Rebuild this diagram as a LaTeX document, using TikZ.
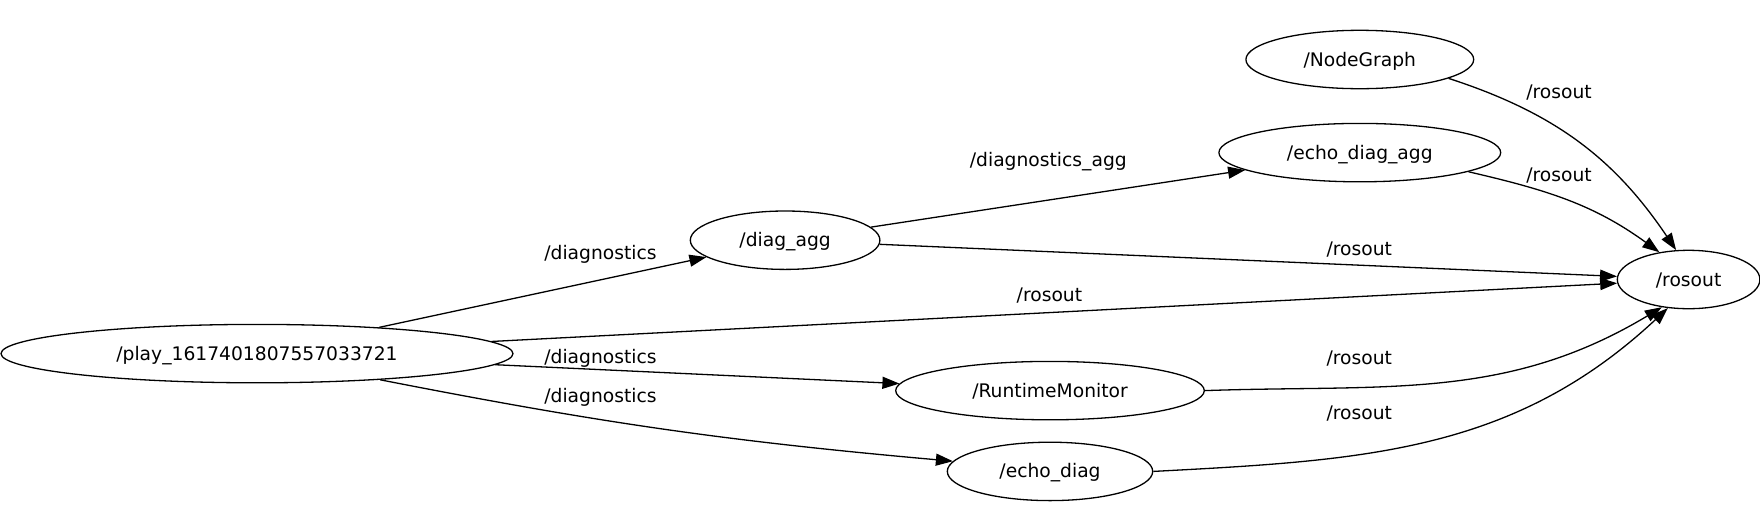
\documentclass[tikz,border=0pt]{standalone}
\usepackage{fontspec}
\setmainfont{DejaVu Sans}
\usetikzlibrary{shapes.geometric,arrows.meta}
\begin{document}
\begin{tikzpicture}[x=1pt,y=1pt,
  nd/.style={ellipse,draw,line width=1.3pt,inner sep=0pt,minimum height=58.4pt,text height=17pt,text depth=4pt,font=\fontsize{18.7}{22}\selectfont},
  edge/.style={line width=1.3pt,-{Triangle[length=17pt,width=12pt]}},
  lb/.style={font=\fontsize{18.7}{22}\selectfont,inner sep=0pt}]
\useasboundingbox (0,0) rectangle (1760,-528);
\node[nd,minimum width=227.8pt] (ng)   at (1359.8,-59.5)  {/NodeGraph};
\node[nd,minimum width=281.8pt] (eda)  at (1359.8,-152.6) {/echo\_diag\_agg};
\node[nd,minimum width=189.6pt] (da)   at (785.1,-240.2)  {/diag\_agg};
\node[nd,minimum width=142.6pt] (ros)  at (1688.6,-279.5) {/rosout};
\node[nd,minimum width=512pt]   (play) at (257,-353.6)    {/play\_1617401807557033721};
\node[nd,minimum width=308.6pt] (rm)   at (1050,-390.6)   {/RuntimeMonitor};
\node[nd,minimum width=205.4pt] (ed)   at (1050,-471.4)   {/echo\_diag};

\draw[edge] (play) -- (da);
\draw[edge] (play) -- (ros);
\draw[edge] (play) -- (rm);
\draw[edge] (play.-12) to[bend right=3] (ed.174);
\draw[edge] (da) -- (eda);
\draw[edge] (da) -- (ros);
\draw[edge] (ng.-12) to[out=-18,in=124] (ros.113);
\draw[edge] (eda.-10) to[out=-13,in=144] (ros.137);
\draw[edge] (rm.0) to[out=2,in=-149] (ros.226);
\draw[edge] (ed.0) to[out=3,in=-137] (ros.234);

\node[lb] (l1) at (600.5,-254) {/diagnostics};
\node[lb] (l2) at (1049.4,-295.5) {/rosout};
\node[lb] (l3) at (600.5,-358.3) {/diagnostics};
\node[lb] (l4) at (600.5,-397.5) {/diagnostics};
\node[lb] (l5) at (1048.3,-162) {/diagnostics\_agg};
\node[lb] (l6) at (1359.2,-249.4) {/rosout};
\node[lb] (l7) at (1559,-92.3) {/rosout};
\node[lb] (l8) at (1559,-175.3) {/rosout};
\node[lb] (l9) at (1359.2,-358.3) {/rosout};
\node[lb] (l10) at (1359.2,-413.3) {/rosout};
\end{tikzpicture}
\end{document}
